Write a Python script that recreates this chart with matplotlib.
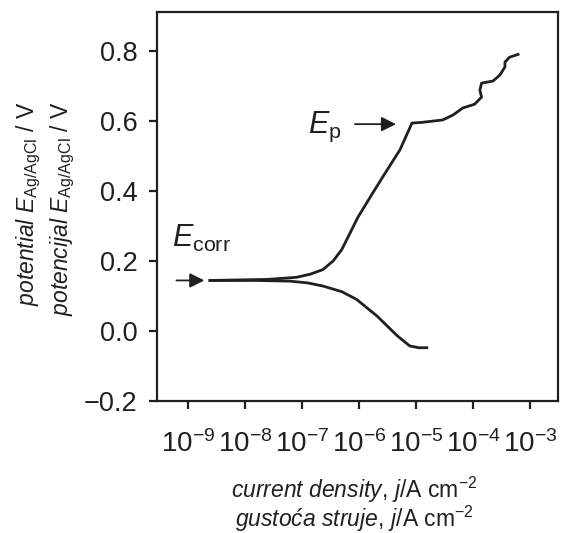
import numpy as np
import matplotlib
matplotlib.use("Agg")
import matplotlib.pyplot as plt

plt.rcParams['font.family'] = ['Liberation Sans', 'DejaVu Sans']
plt.rcParams['mathtext.fontset'] = 'custom'
plt.rcParams['mathtext.rm'] = 'Liberation Sans'
plt.rcParams['mathtext.it'] = 'Liberation Sans:italic'
plt.rcParams['mathtext.bf'] = 'Liberation Sans:bold'

# anodic branch: current density (A cm-2), potential (V)
j_anodic = [2.45e-9, 2.5e-8, 8.1e-8, 1.41e-7, 2.34e-7, 3.55e-7, 5.0e-7, 6.5e-7,
            9.5e-7, 1.58e-6, 2.63e-6, 5.25e-6, 8.5e-6, 1.26e-5, 2.95e-5, 4.47e-5,
            6.6e-5, 1.07e-4, 1.41e-4, 1.32e-4, 1.41e-4, 2.24e-4, 2.95e-4, 3.63e-4,
            3.63e-4, 4.37e-4, 6.17e-4]
E_anodic = [0.144, 0.147, 0.153, 0.162, 0.175, 0.200, 0.232, 0.269,
            0.323, 0.382, 0.440, 0.517, 0.593, 0.595, 0.602, 0.616,
            0.636, 0.647, 0.667, 0.687, 0.707, 0.713, 0.730, 0.753,
            0.767, 0.781, 0.789]

# cathodic branch
j_cathodic = [2.45e-9, 1.58e-8, 6.2e-8, 1.26e-7, 2.34e-7, 5.0e-7, 9.1e-7,
              2.09e-6, 4.7e-6, 7.8e-6, 1.12e-5, 1.55e-5]
E_cathodic = [0.144, 0.144, 0.142, 0.137, 0.128, 0.112, 0.090,
              0.042, -0.014, -0.043, -0.048, -0.048]

x_ticks = [1e-9, 1e-8, 1e-7, 1e-6, 1e-5, 1e-4, 1e-3]
y_ticks = [-0.2, 0.0, 0.2, 0.4, 0.6, 0.8]
y_ticklabels = ['\u22120.2', '0.0', '0.2', '0.4', '0.6', '0.8']

ink = '#231f20'
W, H = 565, 533

fig = plt.figure(figsize=(5.65, 5.33), dpi=100)
ax = fig.add_axes([157 / W, 1 - 401 / H, (558 - 157) / W, (401 - 12) / H])

ax.plot(j_anodic, E_anodic, color=ink, lw=2.0, solid_joinstyle='round')
ax.plot(j_cathodic, E_cathodic, color=ink, lw=2.0, solid_joinstyle='round')

ax.set_xscale('log')
ax.set_xlim(10 ** -9.54, 10 ** -2.51)
ax.set_ylim(-0.2, 0.91)
ax.set_xticks(x_ticks)
ax.set_yticks(y_ticks)
ax.minorticks_off()
ax.set_yticklabels(y_ticklabels)

for s in ax.spines.values():
    s.set_linewidth(1.6)
    s.set_color(ink)
ax.tick_params(axis='both', direction='out', length=6, width=1.6, labelsize=19.5,
               colors=ink)
ax.tick_params(axis='x', pad=15, labelsize=20)
ax.tick_params(axis='y', pad=8)

# E_p and E_corr markers
arrow = dict(arrowstyle='-|>', mutation_scale=22, lw=1.3, color=ink,
             shrinkA=0, shrinkB=0)
ax.annotate('', xy=(10 ** -5.35, 0.59), xytext=(10 ** -6.07, 0.59), arrowprops=arrow)
ax.annotate('', xy=(10 ** -8.71, 0.144), xytext=(10 ** -9.2, 0.144), arrowprops=arrow)
ax.text(10 ** -6.89, 0.565, r'$E_{\mathrm{p}}$', fontsize=22, ha='left',
        va='baseline', color=ink)
ax.text(10 ** -9.28, 0.241, r'$E_{\mathrm{corr}}$', fontsize=22, ha='left',
        va='baseline', color=ink)

# axis titles, English and Croatian
fig.text(354 / W, 1 - 490 / H,
         r'$\mathit{current\ density},\,\mathit{j}/\mathrm{A\ cm}^{-2}$',
         fontsize=16.5, ha='center', va='center', color=ink)
fig.text(354 / W, 1 - 519 / H,
         r'$\mathit{gustoća\ struje},\,\mathit{j}/\mathrm{A\ cm}^{-2}$',
         fontsize=16.5, ha='center', va='center', color=ink)
fig.text(29 / W, 1 - 102 / H,
         r'$\mathit{potential}\ E_{\mathrm{Ag/AgCl}}\ /\ \mathrm{V}$',
         fontsize=16.5, rotation=90, ha='center', va='top', color=ink)
fig.text(63 / W, 1 - 102 / H,
         r'$\mathit{potencijal}\ E_{\mathrm{Ag/AgCl}}\ /\ \mathrm{V}$',
         fontsize=16.5, rotation=90, ha='center', va='top', color=ink)

fig.savefig('out.png', dpi=100)
